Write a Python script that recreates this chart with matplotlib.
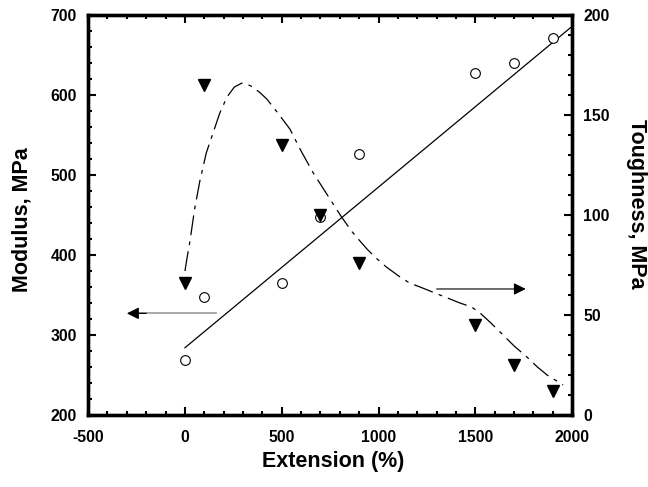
import matplotlib.pyplot as plt
import numpy as np
from matplotlib.ticker import MultipleLocator

plt.rcParams['font.family'] = ['Liberation Sans', 'DejaVu Sans']
plt.rcParams['font.weight'] = 'bold'
plt.rcParams['axes.unicode_minus'] = False

# measured points
ext = [0, 100, 500, 700, 900, 1500, 1700, 1900]
modulus = [269, 347, 365, 447, 526, 627, 640, 671]
toughness = [66, 165, 135, 100, 76, 45, 25, 12]

# straight fit for modulus
fit_x = [0, 2000]
fit_y = [284, 686]

# hand drawn trend for toughness
curve_x = [0, 10, 26, 50, 77, 110, 145, 180, 217, 255, 294, 330, 351, 390,
           423, 480, 542, 600, 663, 749, 809, 860, 904, 940, 981, 1040, 1111,
           1160, 1214, 1317, 1420, 1480, 1524, 1580, 1643, 1700, 1766, 1820,
           1870, 1953]
curve_y = [72, 78, 87, 103, 117, 131, 141, 151, 159, 164, 166, 165, 164, 161,
           158, 151, 143, 132, 121, 108, 99, 92, 87, 83, 79, 74, 69,
           66, 64, 60, 56, 54, 51, 46, 40, 34.5, 29, 24,
           20, 15]

fig = plt.figure(figsize=(6.48, 4.87), dpi=100)
ax = fig.add_axes([0.136, 0.148, 0.747, 0.821])
ax2 = ax.twinx()

ax.plot(fit_x, fit_y, color='black', lw=0.9)
ax.plot(ext, modulus, 'o', mfc='white', mec='black', ms=7, mew=0.8)
ax2.plot(curve_x, curve_y, color='black', lw=0.9, dashes=(16, 5, 3, 5))
ax2.plot(ext, toughness, 'v', color='black', ms=8)

ax.plot([-240, 160], [327, 327], color='#999999', lw=1.2)
ax.annotate('', xy=(-300, 327), xytext=(-200, 327),
            arrowprops=dict(arrowstyle='-|>', color='black', lw=0.9,
                            mutation_scale=18, shrinkA=0, shrinkB=0))
ax2.annotate('', xy=(1760, 63), xytext=(1300, 63),
             arrowprops=dict(arrowstyle='-|>', color='black', lw=0.8,
                             mutation_scale=18, shrinkA=0, shrinkB=0))

ax.set_xlim(-500, 2000)
ax.set_ylim(200, 700)
ax2.set_ylim(0, 200)

ax.xaxis.set_major_locator(MultipleLocator(500))
ax.xaxis.set_minor_locator(MultipleLocator(100))
ax.yaxis.set_major_locator(MultipleLocator(100))
ax.yaxis.set_minor_locator(MultipleLocator(20))
ax2.yaxis.set_major_locator(MultipleLocator(50))
ax2.yaxis.set_minor_locator(MultipleLocator(10))

ax.tick_params(axis='x', which='both', direction='in', top=True, width=1.5)
ax.tick_params(axis='y', which='both', direction='in', right=False, width=1.5)
ax.tick_params(which='major', length=6, labelsize=11.3)
ax.tick_params(axis='x', which='major', pad=11)
ax.tick_params(axis='y', which='major', pad=8)
ax.tick_params(which='minor', length=3)
ax2.tick_params(which='both', direction='in', width=1.5)
ax2.tick_params(which='major', length=6, labelsize=11.3, pad=8)
ax2.tick_params(which='minor', length=3)

for a in (ax, ax2):
    for s in a.spines.values():
        s.set_linewidth(2.4)

fig.text(333 / 648, 1 - 462 / 487, 'Extension (%)', fontsize=15.5,
         fontweight='bold', ha='center', va='center')
fig.text(22 / 648, 1 - 220 / 487, 'Modulus, MPa', fontsize=15.5,
         fontweight='bold', ha='center', va='center', rotation=90)
fig.text(637 / 648, 1 - 204 / 487, 'Toughness, MPa', fontsize=15.5,
         fontweight='bold', ha='center', va='center', rotation=270)

fig.savefig('out.png', dpi=100)
